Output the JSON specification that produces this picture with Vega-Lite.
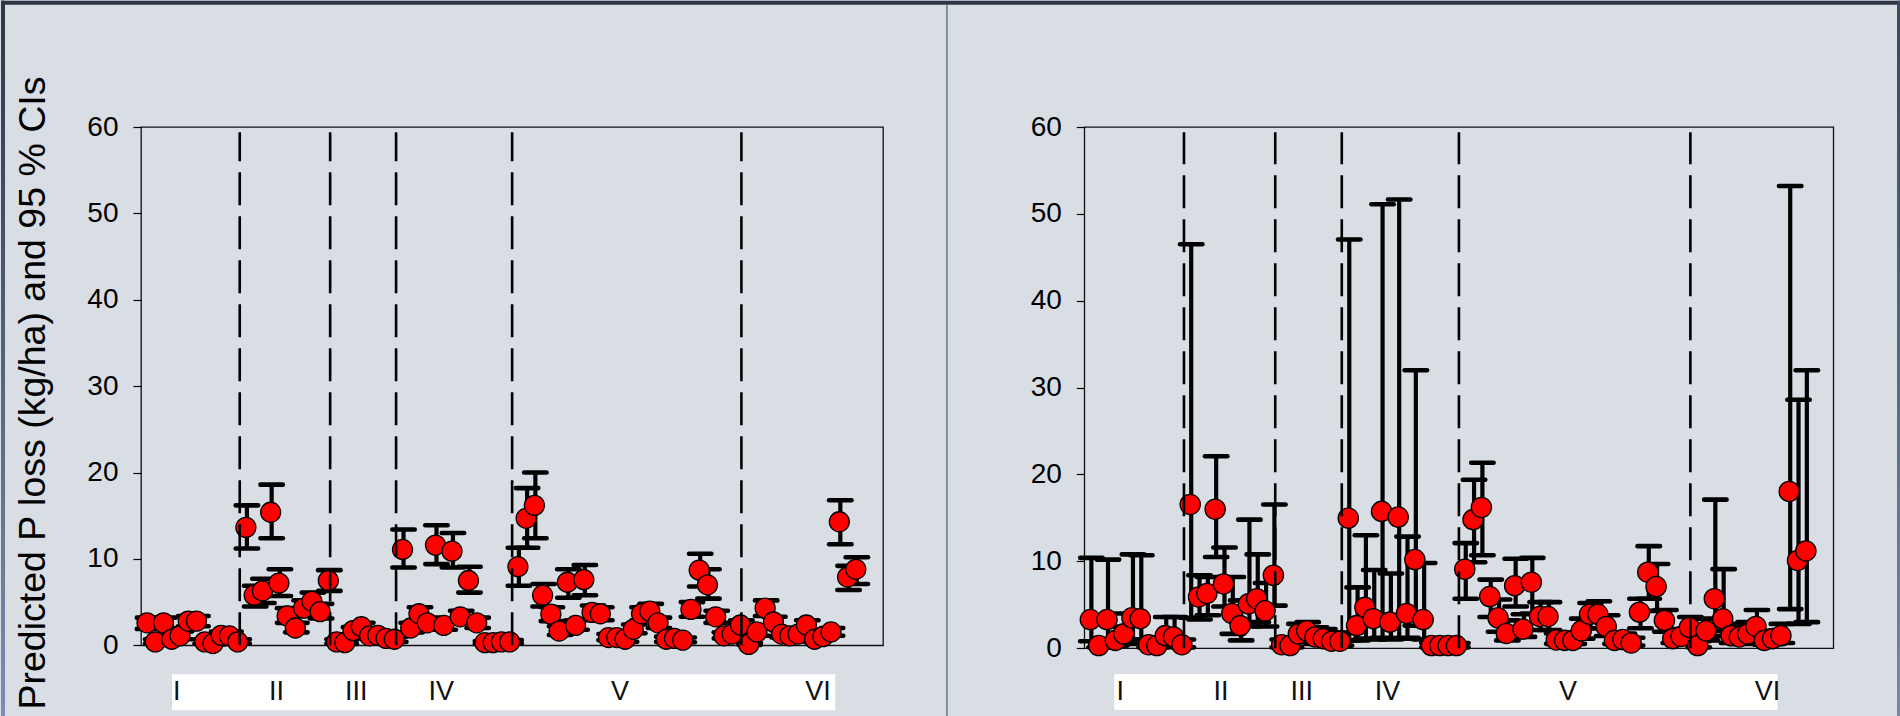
{
  "$schema": "https://vega.github.io/schema/vega-lite/v6.json",
  "background": "#d9dde4",
  "padding": {"left": 0, "top": 0, "right": 0, "bottom": 0},
  "bounds": "flush",
  "spacing": 201.3,
  "datasets": {
    "left": [
      {"k":0,"p":2.6,"lo":1.9,"hi":3.2},{"k":1,"p":0.4,"lo":0.2,"hi":0.7},{"k":2,"p":2.6,"lo":2.0,"hi":3.2},
      {"k":3,"p":0.7,"lo":0.4,"hi":1.1},{"k":4,"p":1.1,"lo":0.7,"hi":1.6},{"k":5,"p":2.8,"lo":2.2,"hi":3.4},
      {"k":6,"p":2.8,"lo":2.2,"hi":3.4},{"k":7,"p":0.4,"lo":0.2,"hi":0.7},{"k":8,"p":0.2,"lo":0.1,"hi":0.4},
      {"k":9,"p":1.15,"lo":0.8,"hi":1.6},{"k":10,"p":1.1,"lo":0.7,"hi":1.6},{"k":11,"p":0.4,"lo":0.2,"hi":0.7},
      {"k":12,"p":13.65,"lo":11.2,"hi":16.2},{"k":13,"p":5.8,"lo":4.5,"hi":6.9},{"k":14,"p":6.3,"lo":4.9,"hi":7.7},
      {"k":15,"p":15.4,"lo":12.4,"hi":18.6},{"k":16,"p":7.2,"lo":5.7,"hi":8.8},{"k":17,"p":3.4,"lo":2.6,"hi":4.3},
      {"k":18,"p":2.0,"lo":1.5,"hi":2.6},{"k":19,"p":4.3,"lo":3.4,"hi":5.2},{"k":20,"p":5.1,"lo":4.0,"hi":6.1},
      {"k":21,"p":3.9,"lo":3.1,"hi":4.8},{"k":22,"p":7.5,"lo":6.3,"hi":8.7},{"k":23,"p":0.4,"lo":0.2,"hi":0.7},
      {"k":24,"p":0.3,"lo":0.15,"hi":0.6},{"k":25,"p":1.7,"lo":1.3,"hi":2.1},{"k":26,"p":2.15,"lo":1.7,"hi":2.6},
      {"k":27,"p":1.1,"lo":0.8,"hi":1.4},{"k":28,"p":1.15,"lo":0.8,"hi":1.5},{"k":29,"p":0.8,"lo":0.5,"hi":1.1},
      {"k":30,"p":0.7,"lo":0.4,"hi":1.0},{"k":31,"p":11.1,"lo":9.0,"hi":13.4},{"k":32,"p":2.0,"lo":1.5,"hi":2.6},
      {"k":33,"p":3.65,"lo":2.9,"hi":4.4},{"k":34,"p":2.6,"lo":2.0,"hi":3.2},{"k":35,"p":11.6,"lo":9.4,"hi":13.9},
      {"k":36,"p":2.3,"lo":1.8,"hi":2.9},{"k":37,"p":10.9,"lo":9.0,"hi":13.0},{"k":38,"p":3.3,"lo":2.6,"hi":4.0},
      {"k":39,"p":7.5,"lo":6.1,"hi":9.1},{"k":40,"p":2.6,"lo":2.0,"hi":3.2},{"k":41,"p":0.3,"lo":0.15,"hi":0.5},
      {"k":42,"p":0.3,"lo":0.15,"hi":0.5},{"k":43,"p":0.4,"lo":0.2,"hi":0.6},{"k":44,"p":0.4,"lo":0.2,"hi":0.6},
      {"k":45,"p":9.1,"lo":6.9,"hi":11.3},{"k":46,"p":14.7,"lo":11.3,"hi":18.2},{"k":47,"p":16.2,"lo":12.4,"hi":20.0},
      {"k":48,"p":5.8,"lo":4.5,"hi":7.1},{"k":49,"p":3.6,"lo":2.8,"hi":4.4},{"k":50,"p":1.65,"lo":1.2,"hi":2.2},
      {"k":51,"p":7.3,"lo":5.5,"hi":8.8},{"k":52,"p":2.3,"lo":1.8,"hi":2.9},{"k":53,"p":7.6,"lo":5.8,"hi":9.3},
      {"k":54,"p":3.8,"lo":3.0,"hi":4.6},{"k":55,"p":3.65,"lo":2.9,"hi":4.4},{"k":56,"p":0.9,"lo":0.6,"hi":1.3},
      {"k":57,"p":0.9,"lo":0.6,"hi":1.3},{"k":58,"p":0.7,"lo":0.4,"hi":1.0},{"k":59,"p":1.85,"lo":1.4,"hi":2.4},
      {"k":60,"p":3.65,"lo":2.9,"hi":4.4},{"k":61,"p":3.95,"lo":3.1,"hi":4.8},{"k":62,"p":2.6,"lo":2.0,"hi":3.2},
      {"k":63,"p":0.7,"lo":0.4,"hi":1.0},{"k":64,"p":0.8,"lo":0.5,"hi":1.1},{"k":65,"p":0.6,"lo":0.35,"hi":0.9},
      {"k":66,"p":4.15,"lo":3.3,"hi":5.0},{"k":67,"p":8.7,"lo":6.8,"hi":10.6},{"k":68,"p":7.0,"lo":5.4,"hi":8.8},
      {"k":69,"p":3.3,"lo":2.6,"hi":4.0},{"k":70,"p":1.1,"lo":0.8,"hi":1.5},{"k":71,"p":1.3,"lo":0.9,"hi":1.7},
      {"k":72,"p":2.35,"lo":1.8,"hi":2.9},{"k":73,"p":0.1,"lo":0.05,"hi":0.3},{"k":74,"p":1.55,"lo":1.1,"hi":2.0},
      {"k":75,"p":4.3,"lo":3.4,"hi":5.2},{"k":76,"p":2.7,"lo":2.1,"hi":3.3},{"k":77,"p":1.3,"lo":0.9,"hi":1.7},
      {"k":78,"p":1.1,"lo":0.8,"hi":1.5},{"k":79,"p":1.3,"lo":0.9,"hi":1.7},{"k":80,"p":2.35,"lo":1.8,"hi":2.9},
      {"k":81,"p":0.7,"lo":0.4,"hi":1.0},{"k":82,"p":1.0,"lo":0.7,"hi":1.4},{"k":83,"p":1.55,"lo":1.1,"hi":2.0},
      {"k":84,"p":14.3,"lo":11.7,"hi":16.8},{"k":85,"p":7.9,"lo":6.4,"hi":9.2},{"k":86,"p":8.8,"lo":7.1,"hi":10.2}
    ],
    "right": [
      {"k":0,"p":3.3,"lo":0.8,"hi":10.4},{"k":1,"p":0.3,"lo":0.1,"hi":0.8},{"k":2,"p":3.3,"lo":0.9,"hi":10.2},
      {"k":3,"p":0.9,"lo":0.3,"hi":2.5},{"k":4,"p":1.65,"lo":0.5,"hi":4.0},{"k":5,"p":3.5,"lo":1.0,"hi":10.8},
      {"k":6,"p":3.4,"lo":1.0,"hi":10.7},{"k":7,"p":0.4,"lo":0.1,"hi":1.0},{"k":8,"p":0.3,"lo":0.1,"hi":0.8},
      {"k":9,"p":1.45,"lo":0.5,"hi":3.6},{"k":10,"p":1.3,"lo":0.4,"hi":3.6},{"k":11,"p":0.4,"lo":0.1,"hi":1.0},
      {"k":12,"p":16.55,"lo":3.5,"hi":46.5},{"k":13,"p":5.9,"lo":3.3,"hi":8.4},{"k":14,"p":6.3,"lo":3.8,"hi":8.2},
      {"k":15,"p":16.0,"lo":10.5,"hi":22.1},{"k":16,"p":7.4,"lo":4.8,"hi":11.6},{"k":17,"p":4.0,"lo":1.65,"hi":8.2},
      {"k":18,"p":2.6,"lo":0.9,"hi":5.5},{"k":19,"p":5.1,"lo":2.5,"hi":14.8},{"k":20,"p":5.7,"lo":3.0,"hi":10.8},
      {"k":21,"p":4.3,"lo":2.5,"hi":7.5},{"k":22,"p":8.4,"lo":4.9,"hi":16.55},{"k":23,"p":0.4,"lo":0.1,"hi":1.0},
      {"k":24,"p":0.3,"lo":0.1,"hi":0.8},{"k":25,"p":1.65,"lo":0.7,"hi":2.8},{"k":26,"p":2.0,"lo":0.9,"hi":3.0},
      {"k":27,"p":1.3,"lo":0.5,"hi":2.4},{"k":28,"p":1.1,"lo":0.4,"hi":2.2},{"k":29,"p":0.8,"lo":0.3,"hi":1.8},
      {"k":30,"p":0.8,"lo":0.3,"hi":1.8},{"k":31,"p":14.98,"lo":0.9,"hi":47.05},{"k":32,"p":2.6,"lo":0.9,"hi":7.0},
      {"k":33,"p":4.7,"lo":1.1,"hi":13.0},{"k":34,"p":3.4,"lo":1.0,"hi":9.0},{"k":35,"p":15.75,"lo":1.2,"hi":51.1},
      {"k":36,"p":3.0,"lo":1.0,"hi":8.6},{"k":37,"p":15.1,"lo":1.1,"hi":51.65},{"k":38,"p":4.0,"lo":1.2,"hi":12.85},
      {"k":39,"p":10.2,"lo":2.6,"hi":32.0},{"k":40,"p":3.3,"lo":1.0,"hi":9.8},{"k":41,"p":0.3,"lo":0.1,"hi":0.6},
      {"k":42,"p":0.3,"lo":0.1,"hi":0.6},{"k":43,"p":0.3,"lo":0.1,"hi":0.6},{"k":44,"p":0.3,"lo":0.1,"hi":0.6},
      {"k":45,"p":9.1,"lo":5.7,"hi":12.1},{"k":46,"p":14.8,"lo":9.9,"hi":19.4},{"k":47,"p":16.2,"lo":10.7,"hi":21.35},
      {"k":48,"p":5.95,"lo":3.6,"hi":7.9},{"k":49,"p":3.5,"lo":1.9,"hi":5.6},{"k":50,"p":1.7,"lo":0.9,"hi":3.2},
      {"k":51,"p":7.2,"lo":4.8,"hi":10.3},{"k":52,"p":2.2,"lo":1.3,"hi":3.9},{"k":53,"p":7.6,"lo":4.0,"hi":10.4},
      {"k":54,"p":3.65,"lo":2.1,"hi":5.3},{"k":55,"p":3.65,"lo":2.1,"hi":5.3},{"k":56,"p":0.95,"lo":0.5,"hi":1.7},
      {"k":57,"p":0.9,"lo":0.5,"hi":1.6},{"k":58,"p":0.9,"lo":0.5,"hi":1.6},{"k":59,"p":2.0,"lo":1.1,"hi":3.4},
      {"k":60,"p":3.9,"lo":2.3,"hi":5.2},{"k":61,"p":3.9,"lo":2.3,"hi":5.4},{"k":62,"p":2.5,"lo":1.4,"hi":3.8},
      {"k":63,"p":0.9,"lo":0.5,"hi":1.6},{"k":64,"p":1.0,"lo":0.5,"hi":1.7},{"k":65,"p":0.6,"lo":0.3,"hi":1.2},
      {"k":66,"p":4.15,"lo":2.3,"hi":5.7},{"k":67,"p":8.75,"lo":5.7,"hi":11.75},{"k":68,"p":7.1,"lo":4.3,"hi":9.7},
      {"k":69,"p":3.2,"lo":1.9,"hi":4.4},{"k":70,"p":1.1,"lo":0.6,"hi":1.9},{"k":71,"p":1.35,"lo":0.7,"hi":2.2},
      {"k":72,"p":2.4,"lo":1.3,"hi":3.6},{"k":73,"p":0.3,"lo":0.1,"hi":0.8},{"k":74,"p":2.0,"lo":0.9,"hi":3.4},
      {"k":75,"p":5.7,"lo":2.0,"hi":17.1},{"k":76,"p":3.4,"lo":1.4,"hi":9.1},{"k":77,"p":1.45,"lo":0.6,"hi":2.8},
      {"k":78,"p":1.3,"lo":0.5,"hi":2.6},{"k":79,"p":1.65,"lo":0.7,"hi":3.0},{"k":80,"p":2.5,"lo":1.2,"hi":4.4},
      {"k":81,"p":0.9,"lo":0.4,"hi":1.8},{"k":82,"p":1.1,"lo":0.5,"hi":2.0},{"k":83,"p":1.45,"lo":0.6,"hi":2.8},
      {"k":84,"p":18.05,"lo":4.5,"hi":53.2},{"k":85,"p":10.1,"lo":2.8,"hi":28.6},{"k":86,"p":11.2,"lo":3.0,"hi":32.0}
    ],
    "bounds": [{"b":11.25},{"b":22.22},{"b":30.22},{"b":44.3},{"b":72.12}],
    "groups": [
      {"g":"I","pos":3.6},{"g":"II","pos":15.7},{"g":"III","pos":25.4},
      {"g":"IV","pos":35.7},{"g":"V","pos":57.4},{"g":"VI","pos":81.4}
    ]
  },
  "hconcat": [
    {
      "width": 742,
      "height": 518.3,
      "layer": [
        {
          "data": {"values": [{}]},
          "mark": {"type": "rect", "fill": "#ffffff"},
          "encoding": {
            "x": {"datum": 3.03, "type": "quantitative", "scale": {"domain": [-0.73, 89.3], "nice": false, "zero": false}, "axis": null},
            "x2": {"datum": 83.5},
            "y": {"datum": -3.35, "type": "quantitative", "scale": {"domain": [0, 60], "nice": false},
              "axis": {"values": [0, 10, 20, 30, 40, 50, 60], "title": "Predicted P loss (kg/ha) and 95 % CIs"}},
            "y2": {"datum": -7.51}
          }
        },
        {
          "data": {"name": "groups"},
          "mark": {"type": "text", "font": "Liberation Sans", "fontSize": 27, "color": "#111111", "align": "center", "baseline": "middle"},
          "encoding": {
            "x": {"field": "pos", "type": "quantitative", "scale": {"domain": [-0.73, 89.3], "nice": false, "zero": false}, "axis": null},
            "y": {"datum": -5.4, "type": "quantitative", "scale": {"domain": [0, 60], "nice": false},
              "axis": {"values": [0, 10, 20, 30, 40, 50, 60], "title": "Predicted P loss (kg/ha) and 95 % CIs"}},
            "text": {"field": "g"}
          }
        },
        {
          "data": {"name": "left"},
          "mark": {"type": "rule", "color": "#000000", "strokeWidth": 4.2, "xOffset": 1},
          "encoding": {
            "x": {"field": "k", "type": "quantitative", "scale": {"domain": [-0.73, 89.3], "nice": false, "zero": false}, "axis": null},
            "y": {"field": "lo", "type": "quantitative", "scale": {"domain": [0, 60], "nice": false},
              "axis": {"values": [0, 10, 20, 30, 40, 50, 60], "title": "Predicted P loss (kg/ha) and 95 % CIs"}},
            "y2": {"field": "hi"}
          }
        },
        {
          "data": {"name": "left"},
          "mark": {"type": "rule", "color": "#000000", "strokeWidth": 4.6, "strokeCap": "round", "xOffset": -10.2, "x2Offset": 12.2},
          "encoding": {
            "x": {"field": "k", "type": "quantitative", "scale": {"domain": [-0.73, 89.3], "nice": false, "zero": false}, "axis": null},
            "x2": {"field": "k"},
            "y": {"field": "lo", "type": "quantitative", "scale": {"domain": [0, 60], "nice": false},
              "axis": {"values": [0, 10, 20, 30, 40, 50, 60], "title": "Predicted P loss (kg/ha) and 95 % CIs"}}
          }
        },
        {
          "data": {"name": "left"},
          "mark": {"type": "rule", "color": "#000000", "strokeWidth": 4.6, "strokeCap": "round", "xOffset": -10.2, "x2Offset": 12.2},
          "encoding": {
            "x": {"field": "k", "type": "quantitative", "scale": {"domain": [-0.73, 89.3], "nice": false, "zero": false}, "axis": null},
            "x2": {"field": "k"},
            "y": {"field": "hi", "type": "quantitative", "scale": {"domain": [0, 60], "nice": false},
              "axis": {"values": [0, 10, 20, 30, 40, 50, 60], "title": "Predicted P loss (kg/ha) and 95 % CIs"}}
          }
        },
        {
          "data": {"name": "left"},
          "mark": {"type": "circle", "size": 400, "fill": "#ff0000", "stroke": "#000000", "strokeWidth": 1.3, "opacity": 1},
          "encoding": {
            "x": {"field": "k", "type": "quantitative", "scale": {"domain": [-0.73, 89.3], "nice": false, "zero": false}, "axis": null},
            "y": {"field": "p", "type": "quantitative", "scale": {"domain": [0, 60], "nice": false},
              "axis": {"values": [0, 10, 20, 30, 40, 50, 60], "title": "Predicted P loss (kg/ha) and 95 % CIs"}}
          }
        },
        {
          "data": {"name": "bounds"},
          "mark": {"type": "rule", "color": "#000000", "strokeWidth": 2.6, "strokeDash": [33, 11]},
          "encoding": {
            "x": {"field": "b", "type": "quantitative", "scale": {"domain": [-0.73, 89.3], "nice": false, "zero": false}, "axis": null},
            "y": {"datum": 0, "type": "quantitative", "scale": {"domain": [0, 60], "nice": false},
              "axis": {"values": [0, 10, 20, 30, 40, 50, 60], "title": "Predicted P loss (kg/ha) and 95 % CIs"}},
            "y2": {"datum": 59.4}
          }
        }
      ]
    },
    {
      "width": 749,
      "height": 521.2,
      "layer": [
        {
          "data": {"values": [{}]},
          "mark": {"type": "rect", "fill": "#2e3545"},
          "encoding": {
            "x": {"datum": -130.94, "type": "quantitative", "scale": {"domain": [-0.73, 89.3], "nice": false, "zero": false}, "axis": null},
            "x2": {"datum": 97.44},
            "y": {"datum": 74.54, "type": "quantitative", "scale": {"domain": [0, 60], "nice": false},
              "axis": {"values": [0, 10, 20, 30, 40, 50, 60], "title": null}},
            "y2": {"datum": 74.08}
          }
        },
        {
          "data": {"values": [{}]},
          "mark": {"type": "rect", "fill": {"gradient": "linear", "x1": 0, "y1": 0, "x2": 0, "y2": 1,
            "stops": [{"offset": 0, "color": "#2e3545"}, {"offset": 1, "color": "#7b8fb1"}]}},
          "encoding": {
            "x": {"datum": -130.94, "type": "quantitative", "scale": {"domain": [-0.73, 89.3], "nice": false, "zero": false}, "axis": null},
            "x2": {"datum": -130.46},
            "y": {"datum": 74.54, "type": "quantitative", "scale": {"domain": [0, 60], "nice": false},
              "axis": {"values": [0, 10, 20, 30, 40, 50, 60], "title": null}},
            "y2": {"datum": -7.885}
          }
        },
        {
          "data": {"values": [{}]},
          "mark": {"type": "rect", "fill": {"gradient": "linear", "x1": 0, "y1": 0, "x2": 0, "y2": 1,
            "stops": [{"offset": 0, "color": "#3a465e"}, {"offset": 1, "color": "#7088ae"}]}},
          "encoding": {
            "x": {"datum": 96.96, "type": "quantitative", "scale": {"domain": [-0.73, 89.3], "nice": false, "zero": false}, "axis": null},
            "x2": {"datum": 97.44},
            "y": {"datum": 74.54, "type": "quantitative", "scale": {"domain": [0, 60], "nice": false},
              "axis": {"values": [0, 10, 20, 30, 40, 50, 60], "title": null}},
            "y2": {"datum": -7.885}
          }
        },
        {
          "data": {"values": [{}]},
          "mark": {"type": "rule", "color": "#56647c", "strokeWidth": 1.3},
          "encoding": {
            "x": {"datum": -17.24, "type": "quantitative", "scale": {"domain": [-0.73, 89.3], "nice": false, "zero": false}, "axis": null},
            "y": {"datum": 74.08, "type": "quantitative", "scale": {"domain": [0, 60], "nice": false},
              "axis": {"values": [0, 10, 20, 30, 40, 50, 60], "title": null}},
            "y2": {"datum": -7.8}
          }
        },
        {
          "data": {"values": [{}]},
          "mark": {"type": "rect", "fill": "#ffffff"},
          "encoding": {
            "x": {"datum": 2.87, "type": "quantitative", "scale": {"domain": [-0.73, 89.3], "nice": false, "zero": false}, "axis": null},
            "x2": {"datum": 82.6},
            "y": {"datum": -2.97, "type": "quantitative", "scale": {"domain": [0, 60], "nice": false},
              "axis": {"values": [0, 10, 20, 30, 40, 50, 60], "title": null}},
            "y2": {"datum": -7.1}
          }
        },
        {
          "data": {"name": "groups"},
          "mark": {"type": "text", "font": "Liberation Sans", "fontSize": 27, "color": "#111111", "align": "center", "baseline": "middle"},
          "encoding": {
            "x": {"field": "pos", "type": "quantitative", "scale": {"domain": [-0.73, 89.3], "nice": false, "zero": false}, "axis": null},
            "y": {"datum": -5.03, "type": "quantitative", "scale": {"domain": [0, 60], "nice": false},
              "axis": {"values": [0, 10, 20, 30, 40, 50, 60], "title": null}},
            "text": {"field": "g"}
          }
        },
        {
          "data": {"name": "right"},
          "mark": {"type": "rule", "color": "#000000", "strokeWidth": 4.2, "xOffset": 1},
          "encoding": {
            "x": {"field": "k", "type": "quantitative", "scale": {"domain": [-0.73, 89.3], "nice": false, "zero": false}, "axis": null},
            "y": {"field": "lo", "type": "quantitative", "scale": {"domain": [0, 60], "nice": false},
              "axis": {"values": [0, 10, 20, 30, 40, 50, 60], "title": null}},
            "y2": {"field": "hi"}
          }
        },
        {
          "data": {"name": "right"},
          "mark": {"type": "rule", "color": "#000000", "strokeWidth": 4.6, "strokeCap": "round", "xOffset": -10.2, "x2Offset": 12.2},
          "encoding": {
            "x": {"field": "k", "type": "quantitative", "scale": {"domain": [-0.73, 89.3], "nice": false, "zero": false}, "axis": null},
            "x2": {"field": "k"},
            "y": {"field": "lo", "type": "quantitative", "scale": {"domain": [0, 60], "nice": false},
              "axis": {"values": [0, 10, 20, 30, 40, 50, 60], "title": null}}
          }
        },
        {
          "data": {"name": "right"},
          "mark": {"type": "rule", "color": "#000000", "strokeWidth": 4.6, "strokeCap": "round", "xOffset": -10.2, "x2Offset": 12.2},
          "encoding": {
            "x": {"field": "k", "type": "quantitative", "scale": {"domain": [-0.73, 89.3], "nice": false, "zero": false}, "axis": null},
            "x2": {"field": "k"},
            "y": {"field": "hi", "type": "quantitative", "scale": {"domain": [0, 60], "nice": false},
              "axis": {"values": [0, 10, 20, 30, 40, 50, 60], "title": null}}
          }
        },
        {
          "data": {"name": "right"},
          "mark": {"type": "circle", "size": 410, "fill": "#ff0000", "stroke": "#000000", "strokeWidth": 1.3, "opacity": 1},
          "encoding": {
            "x": {"field": "k", "type": "quantitative", "scale": {"domain": [-0.73, 89.3], "nice": false, "zero": false}, "axis": null},
            "y": {"field": "p", "type": "quantitative", "scale": {"domain": [0, 60], "nice": false},
              "axis": {"values": [0, 10, 20, 30, 40, 50, 60], "title": null}}
          }
        },
        {
          "data": {"name": "bounds"},
          "mark": {"type": "rule", "color": "#000000", "strokeWidth": 2.6, "strokeDash": [33, 11]},
          "encoding": {
            "x": {"field": "b", "type": "quantitative", "scale": {"domain": [-0.73, 89.3], "nice": false, "zero": false}, "axis": null},
            "y": {"datum": 0, "type": "quantitative", "scale": {"domain": [0, 60], "nice": false},
              "axis": {"values": [0, 10, 20, 30, 40, 50, 60], "title": null}},
            "y2": {"datum": 59.4}
          }
        }
      ]
    }
  ],
  "config": {
    "view": {"stroke": "#111111", "strokeWidth": 1.3},
    "axis": {
      "labelFont": "Liberation Sans",
      "labelFontSize": 28,
      "labelColor": "#000000",
      "tickColor": "#000000",
      "tickSize": 8,
      "tickWidth": 1.2,
      "labelPadding": 15,
      "domain": false,
      "grid": false,
      "titleFont": "Liberation Sans",
      "titleFontWeight": "normal",
      "titleColor": "#000000"
    },
    "axisY": {
      "titleFontSize": 37.5,
      "titleAngle": 270,
      "titleAlign": "center",
      "titleBaseline": "alphabetic",
      "titleX": -97,
      "titleY": 265.5
    }
  }
}
